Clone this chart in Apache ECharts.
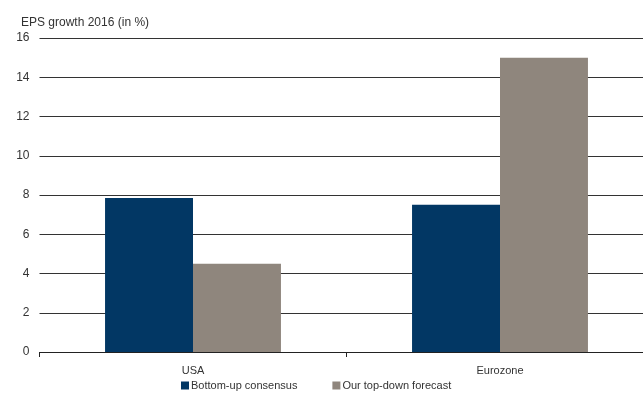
<!DOCTYPE html>
<html><head><meta charset="utf-8">
<script src="https://cdn.jsdelivr.net/npm/echarts@6/dist/echarts.min.js"></script>
<style>html,body{margin:0;padding:0;background:#fff}#c{width:643px;height:396px}</style>
</head><body><div id="c"></div>
<script>
const categories = ["USA", "Eurozone"];
const seriesNames = ["Bottom-up consensus", "Our top-down forecast"];
const bottomUp = [7.85, 7.5];
const topDown = [4.5, 15.0];
const colors = ["#023764", "#8f867d"];

const chart = echarts.init(document.getElementById('c'), null, {renderer: 'canvas'});
const font = "Liberation Sans";
chart.setOption({
  animation: false,
  textStyle: {fontFamily: font},
  title: {text: "EPS growth 2016 (in %)", left: 16, top: 12,
    textStyle: {fontFamily: font, fontSize: 12, fontWeight: 'normal', color: '#333'}},
  legend: {
    data: seriesNames, bottom: 0, left: 176, itemWidth: 8, itemHeight: 8, itemGap: 35,
    icon: 'rect', textStyle: {fontFamily: font, fontSize: 11, color: '#333', padding: [0,0,0,-3]}
  },
  grid: {left: 39.5, width: 614, top: 38, bottom: 44, outerBoundsMode: 'none'},
  xAxis: {
    type: 'category', data: categories,
    axisLine: {lineStyle: {color: '#222', width: 1}},
    axisTick: {show: true, length: 5, lineStyle: {color: '#222'}},
    axisLabel: {fontFamily: font, fontSize: 11, color: '#333', margin: 13}
  },
  yAxis: {
    type: 'value', min: 0, max: 16, interval: 2,
    axisLine: {show: false}, axisTick: {show: false},
    axisLabel: {fontFamily: font, fontSize: 12, color: '#333', margin: 10},
    splitLine: {lineStyle: {color: '#333', width: 1.2}}
  },
  series: [
    {name: seriesNames[0], type: 'bar', data: bottomUp, itemStyle: {color: colors[0]}, barGap: '0%', barCategoryGap: '42.7%'},
    {name: seriesNames[1], type: 'bar', data: topDown, itemStyle: {color: colors[1]}, barGap: '0%', barCategoryGap: '42.7%'}
  ]
});
</script></body></html>
